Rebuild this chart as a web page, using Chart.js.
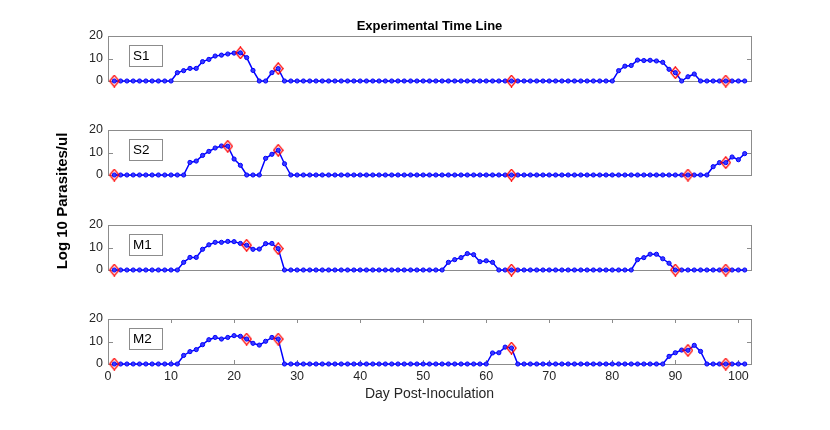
<!DOCTYPE html>
<html>
<head>
<meta charset="utf-8">
<script src="https://cdn.jsdelivr.net/npm/chart.js@4.4.1/dist/chart.umd.min.js"></script>
<style>
  body { margin: 0; background: #fff; }
  #wrap { position: relative; width: 830px; height: 430px; overflow: hidden; font-family: "Liberation Sans", Arial, sans-serif; color: #000; }
  canvas { position: absolute; left: 0; }
  .tag { position: absolute; left: 129px; width: 34px; height: 22px; box-sizing: border-box; border: 1px solid #8c8c8c; font-size: 13.5px; line-height: 20px; padding-left: 3px; }
  #title { position: absolute; left: 108px; width: 643px; top: 18px; text-align: center; font-weight: bold; font-size: 13px; line-height: 15px; }
  #ylabel { position: absolute; left: -38px; top: 192px; width: 200px; height: 18px; line-height: 18px; text-align: center; font-weight: bold; font-size: 15px; transform: rotate(-90deg); }
</style>
</head>
<body>
<div id="wrap">
  <canvas id="c1" width="830" height="65" style="top:26px"></canvas>
  <canvas id="c2" width="830" height="65" style="top:120px"></canvas>
  <canvas id="c3" width="830" height="65" style="top:215px"></canvas>
  <canvas id="c4" width="830" height="121" style="top:309px"></canvas>
  <div id="title">Experimental Time Line</div>
  <div id="ylabel">Log 10 Parasites/ul</div>
  <div class="tag" style="top:45px">S1</div>
  <div class="tag" style="top:139px">S2</div>
  <div class="tag" style="top:234px">M1</div>
  <div class="tag" style="top:328px">M2</div>
</div>
<script>
const days = [
  1, 2, 3, 4, 5, 6, 7, 8, 9, 10, 11, 12, 13, 14, 15, 16, 17, 18, 19, 20,
  21, 22, 23, 24, 25, 26, 27, 28, 29, 30, 31, 32, 33, 34, 35, 36, 37, 38, 39, 40,
  41, 42, 43, 44, 45, 46, 47, 48, 49, 50, 51, 52, 53, 54, 55, 56, 57, 58, 59, 60,
  61, 62, 63, 64, 65, 66, 67, 68, 69, 70, 71, 72, 73, 74, 75, 76, 77, 78, 79, 80,
  81, 82, 83, 84, 85, 86, 87, 88, 89, 90, 91, 92, 93, 94, 95, 96, 97, 98, 99, 100,
  101
];

// log10 parasites/ul per day, days 1..101
const s1 = [
  0, 0, 0, 0, 0, 0, 0, 0, 0, 0, 3.7, 4.6, 5.6, 5.6, 8.6, 9.6, 11.1, 11.5, 12.0, 12.4,
  12.5, 10.4, 4.7, 0, 0, 3.7, 5.5, 0, 0, 0, 0, 0, 0, 0, 0, 0, 0, 0, 0, 0,
  0, 0, 0, 0, 0, 0, 0, 0, 0, 0, 0, 0, 0, 0, 0, 0, 0, 0, 0, 0,
  0, 0, 0, 0, 0, 0, 0, 0, 0, 0, 0, 0, 0, 0, 0, 0, 0, 0, 0, 0,
  4.6, 6.6, 6.9, 9.3, 9.1, 9.2, 8.9, 8.3, 5.2, 3.7, 0, 1.9, 3.1, 0, 0, 0, 0, 0, 0, 0,
  0
];
const s2 = [
  0, 0, 0, 0, 0, 0, 0, 0, 0, 0, 0, 0, 5.6, 6.2, 8.7, 10.5, 12.0, 12.9, 12.8, 7.1,
  4.3, 0, 0, 0, 7.4, 9.2, 11.0, 5.0, 0, 0, 0, 0, 0, 0, 0, 0, 0, 0, 0, 0,
  0, 0, 0, 0, 0, 0, 0, 0, 0, 0, 0, 0, 0, 0, 0, 0, 0, 0, 0, 0,
  0, 0, 0, 0, 0, 0, 0, 0, 0, 0, 0, 0, 0, 0, 0, 0, 0, 0, 0, 0,
  0, 0, 0, 0, 0, 0, 0, 0, 0, 0, 0, 0, 0, 0, 0, 3.7, 5.5, 5.5, 8.0, 6.8,
  9.5
];
const m1 = [
  0, 0, 0, 0, 0, 0, 0, 0, 0, 0, 0, 3.4, 5.6, 5.6, 9.2, 11.2, 12.3, 12.3, 12.7, 12.6,
  11.8, 11.0, 9.2, 9.3, 11.7, 11.8, 9.5, 0, 0, 0, 0, 0, 0, 0, 0, 0, 0, 0, 0, 0,
  0, 0, 0, 0, 0, 0, 0, 0, 0, 0, 0, 0, 0, 3.4, 4.6, 5.5, 7.3, 6.8, 3.7, 4.1,
  3.4, 0, 0, 0, 0, 0, 0, 0, 0, 0, 0, 0, 0, 0, 0, 0, 0, 0, 0, 0,
  0, 0, 0, 4.6, 5.5, 7.0, 7.0, 5.0, 3.0, 0, 0, 0, 0, 0, 0, 0, 0, 0, 0, 0,
  0
];
const m2 = [
  0, 0, 0, 0, 0, 0, 0, 0, 0, 0, 0, 3.8, 5.5, 6.4, 8.6, 10.8, 11.8, 11.1, 11.8, 12.6,
  12.3, 11.1, 9.2, 8.4, 10.1, 11.8, 11.1, 0, 0, 0, 0, 0, 0, 0, 0, 0, 0, 0, 0, 0,
  0, 0, 0, 0, 0, 0, 0, 0, 0, 0, 0, 0, 0, 0, 0, 0, 0, 0, 0, 0,
  4.9, 5.0, 7.5, 7.1, 0, 0, 0, 0, 0, 0, 0, 0, 0, 0, 0, 0, 0, 0, 0, 0,
  0, 0, 0, 0, 0, 0, 0, 0, 3.4, 5.0, 6.2, 6.1, 8.3, 5.6, 0, 0, 0, 0, 0, 0,
  0
];

// sampling days marked with red diamonds
const s1Marks = [1, 21, 27, 64, 90, 98];
const s2Marks = [1, 19, 27, 64, 92, 98];
const m1Marks = [1, 22, 27, 64, 90, 98];
const m2Marks = [1, 22, 27, 64, 92, 98];

const xTicks = [0, 10, 20, 30, 40, 50, 60, 70, 80, 90, 100];
const yTicks = [0, 10, 20];

const FONT = "'Liberation Sans', Arial, sans-serif";
const AXIS = "#8c8c8c";
const TEXT = "#262626";

// MATLAB style diamond, a bit taller than wide
const diamond = document.createElement("canvas");
diamond.width = 11;
diamond.height = 13;
(function () {
  const g = diamond.getContext("2d");
  g.strokeStyle = "#ff0000";
  g.lineWidth = 1.3;
  g.beginPath();
  g.moveTo(5.5, 0.8);
  g.lineTo(10.2, 6.5);
  g.lineTo(5.5, 12.2);
  g.lineTo(0.8, 6.5);
  g.closePath();
  g.stroke();
})();

const framePlugin = {
  id: "frame",
  beforeDatasetsDraw(chart) {
    const { ctx, chartArea: a, scales } = chart;
    ctx.save();
    ctx.strokeStyle = AXIS;
    ctx.lineWidth = 1;
    ctx.strokeRect(a.left + 0.5, a.top + 0.5, a.right - a.left, a.bottom - a.top);
    ctx.beginPath();
    const y10 = Math.round(scales.y.getPixelForValue(10)) + 0.5;
    ctx.moveTo(a.left, y10);
    ctx.lineTo(a.left + 5, y10);
    ctx.moveTo(a.right - 4, y10);
    ctx.lineTo(a.right + 1, y10);
    if (scales.x.options.display) {
      xTicks.forEach((v) => {
        const px = Math.round(scales.x.getPixelForValue(v)) + 0.5;
        ctx.moveTo(px, a.bottom);
        ctx.lineTo(px, a.bottom - 4);
        ctx.moveTo(px, a.top);
        ctx.lineTo(px, a.top + 4);
      });
    }
    ctx.stroke();
    ctx.restore();
  }
};

function plotOptions(showX) {
  return {
    responsive: false,
    animation: false,
    layout: { padding: { top: 10, right: 79, bottom: showX ? 0 : 10, left: 0 } },
    plugins: { legend: { display: false }, tooltip: { enabled: false } },
    scales: {
      x: {
        type: "linear",
        min: 0,
        max: 102,
        display: showX,
        afterBuildTicks: (s) => { s.ticks = xTicks.map((v) => ({ value: v })); },
        afterFit: (s) => { s.height = showX ? 66 : 0; },
        grid: { display: false, drawTicks: false },
        border: { display: false },
        ticks: { color: TEXT, font: { family: FONT, size: 12.5 }, padding: 5, maxRotation: 0, autoSkip: false },
        title: {
          display: true,
          text: "Day Post-Inoculation",
          color: TEXT,
          font: { family: FONT, size: 14 },
          padding: { top: 0, bottom: 27 }
        }
      },
      y: {
        min: 0,
        max: 20,
        afterBuildTicks: (s) => { s.ticks = yTicks.map((v) => ({ value: v })); },
        afterFit: (s) => { s.width = 108; },
        grid: { display: false, drawTicks: true, tickLength: 5, tickColor: "rgba(0,0,0,0)" },
        border: { display: false },
        ticks: { color: TEXT, font: { family: FONT, size: 12.5 }, padding: 0 }
      }
    }
  };
}

function renderPlot(id, series, marks, showX) {
  return new Chart(document.getElementById(id), {
    type: "line",
    data: {
      datasets: [{
        data: marks.map((d) => ({ x: d, y: series[days.indexOf(d)] })),
        showLine: false,
        pointStyle: diamond,
        pointRadius: 6,
        clip: false,
        order: 0
      }, {
        data: series.map((v, i) => ({ x: days[i], y: v })),
        borderColor: "#0000ff",
        borderWidth: 1.5,
        pointRadius: 2.1,
        pointBorderWidth: 1,
        pointBorderColor: "#0000ff",
        pointBackgroundColor: "#3a3aff",
        tension: 0,
        clip: false,
        order: 1
      }]
    },
    options: plotOptions(showX),
    plugins: [framePlugin]
  });
}

renderPlot("c1", s1, s1Marks, false);
renderPlot("c2", s2, s2Marks, false);
renderPlot("c3", m1, m1Marks, false);
renderPlot("c4", m2, m2Marks, true);
</script>
</body>
</html>
